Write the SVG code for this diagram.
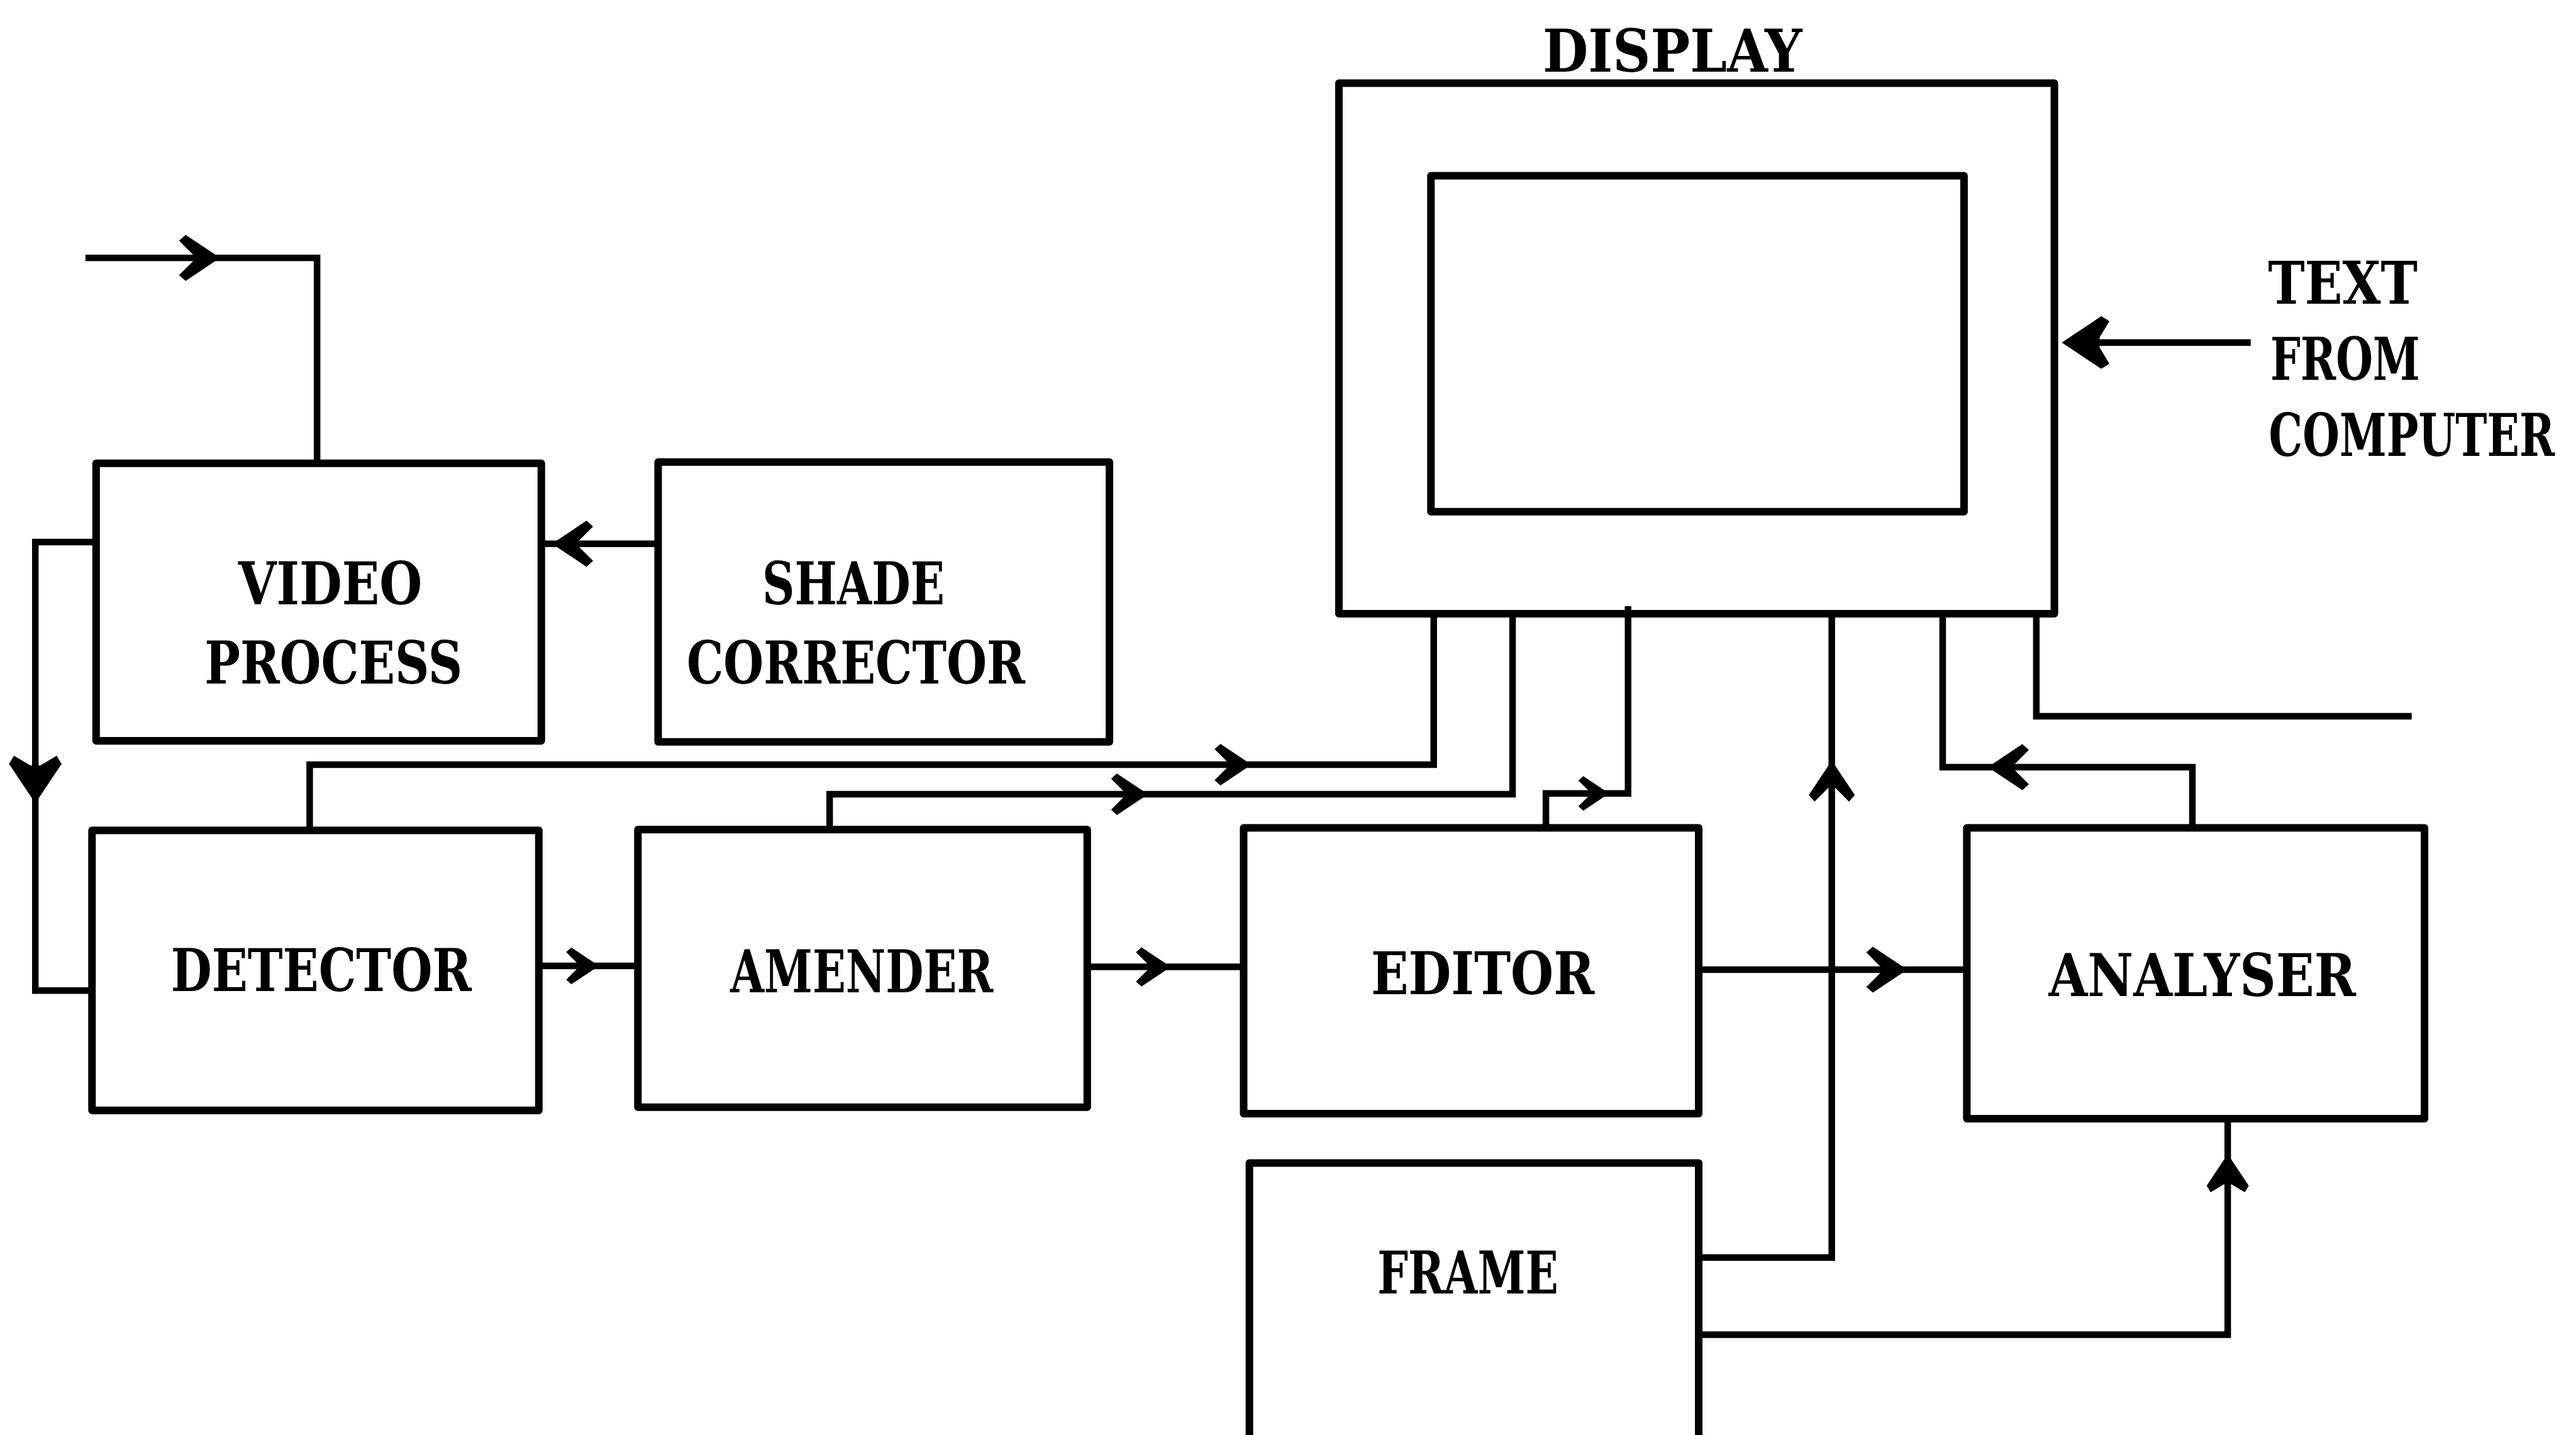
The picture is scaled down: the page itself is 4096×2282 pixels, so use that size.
<svg xmlns="http://www.w3.org/2000/svg" xmlns:xlink="http://www.w3.org/1999/xlink" width="4096" height="2282" viewBox="0 0 4096 2282">
<style>
.box{fill:none;stroke:#000;stroke-width:4.6;stroke-linejoin:round}
.ln{fill:none;stroke:#000;stroke-width:4;stroke-linejoin:miter}
.lbl{font-family:"DejaVu Serif Condensed","DejaVu Serif","Liberation Serif",serif;font-weight:bold;font-size:36px;fill:#000}
.c{text-anchor:middle}
</style>
<defs>
<path id="a" d="M2,0 L-19,-14 L-23,-10.5 L-14,-1.5 L-14,1.5 L-23,10.5 L-19,14 Z" fill="#000"/>
<path id="b" d="M3,0 L-21,-16 L-26,-13 L-20,-3 L-20,3 L-26,13 L-21,16 Z" fill="#000"/>
</defs>
<rect x="0" y="0" width="4096" height="2282" fill="#fff"/>
<g transform="scale(2.61224)">
<g id="video-process">
<rect class="box" x="58.5" y="282" width="271" height="169"/>
<text class="lbl c" x="201" y="368" textLength="112" lengthAdjust="spacingAndGlyphs">VIDEO</text>
<text class="lbl c" x="203" y="416" textLength="157" lengthAdjust="spacingAndGlyphs">PROCESS</text>
</g>
<g id="shade-corrector">
<rect class="box" x="400.6" y="281.3" width="274.7" height="170.3"/>
<text class="lbl c" x="519.5" y="368" textLength="111" lengthAdjust="spacingAndGlyphs">SHADE</text>
<text class="lbl c" x="521" y="416.2" textLength="206" lengthAdjust="spacingAndGlyphs">CORRECTOR</text>
</g>
<g id="display">
<rect class="box" x="815" y="50.6" width="435.5" height="323"/>
<rect class="box" x="871" y="107" width="324.5" height="204.5"/>
<text class="lbl c" x="1018" y="43.8" font-size="34" textLength="158" lengthAdjust="spacingAndGlyphs">DISPLAY</text>
</g>
<g id="text-from-computer">
<text class="lbl" x="1380.5" y="184.9" font-size="34" textLength="91" lengthAdjust="spacingAndGlyphs">TEXT</text>
<text class="lbl" x="1382" y="231.1" font-size="34" textLength="91" lengthAdjust="spacingAndGlyphs">FROM</text>
<text class="lbl" x="1381" y="277.4" font-size="32" textLength="174" lengthAdjust="spacingAndGlyphs">COMPUTER</text>
</g>
<g id="detector">
<rect class="box" x="56" y="505.5" width="272" height="170.5"/>
<text class="lbl c" x="195.5" y="603.2" textLength="183" lengthAdjust="spacingAndGlyphs">DETECTOR</text>
</g>
<g id="amender">
<rect class="box" x="388.3" y="505" width="273.5" height="169"/>
<text class="lbl c" x="524.5" y="604" textLength="160" lengthAdjust="spacingAndGlyphs">AMENDER</text>
</g>
<g id="editor">
<rect class="box" x="757" y="504" width="277" height="174"/>
<text class="lbl c" x="902.5" y="605.3" textLength="136" lengthAdjust="spacingAndGlyphs">EDITOR</text>
</g>
<g id="analyser">
<rect class="box" x="1197.2" y="504" width="278.6" height="177"/>
<text class="lbl c" x="1340.5" y="606.3" textLength="187" lengthAdjust="spacingAndGlyphs">ANALYSER</text>
</g>
<g id="frame">
<path class="box" d="M760.5,890 V708 H1034 V890"/>
<text class="lbl c" x="893.5" y="787.4" textLength="110" lengthAdjust="spacingAndGlyphs">FRAME</text>
</g>
<g id="connectors">
<path class="ln" d="M52,157 H193 V282"/>
<path class="ln" d="M58.5,330 H21.5 V603 H56"/>
<path class="ln" d="M400.6,331 H329.5"/>
<path class="ln" d="M188.5,505.5 V465.5 H872.7 V373.5"/>
<path class="ln" d="M505,505 V483.5 H920.7 V373.5"/>
<path class="ln" d="M941,504 V483 H991 V369"/>
<path class="ln" d="M1034,765.5 H1115 V373.5"/>
<path class="ln" d="M1334.5,504 V467 H1182.5 V373.5"/>
<path class="ln" d="M1239.5,373.5 V436 H1468"/>
<path class="ln" d="M1370,208.5 H1258"/>
<path class="ln" d="M328,588 H388.3"/>
<path class="ln" d="M661.8,588.6 H757"/>
<path class="ln" d="M1034,590.3 H1197.2"/>
<path class="ln" d="M1034,812.5 H1356 V681"/>
<use xlink:href="#a" transform="translate(132,157)"/>
<use xlink:href="#a" transform="translate(338,331) rotate(180)"/>
<use xlink:href="#b" transform="translate(21.5,486) rotate(90)"/>
<use xlink:href="#a" transform="translate(363,588) scale(0.8)"/>
<use xlink:href="#a" transform="translate(711,588.6) scale(0.85)"/>
<use xlink:href="#a" transform="translate(760,465.5) scale(0.9)"/>
<use xlink:href="#a" transform="translate(697,483.5) scale(0.9)"/>
<use xlink:href="#a" transform="translate(978,483) scale(0.75)"/>
<use xlink:href="#a" transform="translate(1115,465) rotate(-90)"/>
<use xlink:href="#a" transform="translate(1212,467) rotate(180)"/>
<use xlink:href="#b" transform="translate(1258,208.5) rotate(180)"/>
<use xlink:href="#a" transform="translate(1159,590.3)"/>
<use xlink:href="#b" transform="translate(1356,705) rotate(-90) scale(0.8)"/>
</g>
</g>
</svg>
